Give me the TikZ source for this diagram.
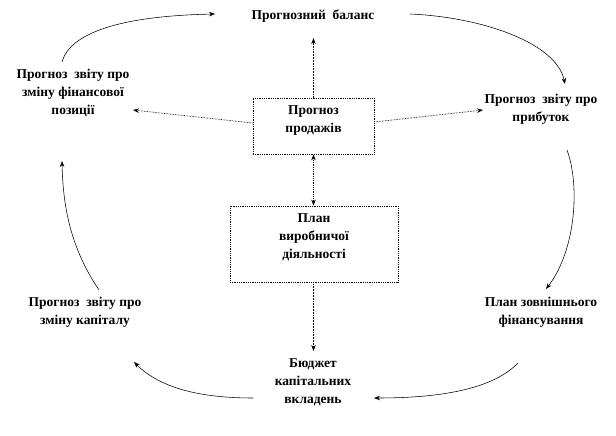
\documentclass[tikz,border=0pt]{standalone}
\usepackage{fontspec}
\setmainfont{Liberation Serif}
\usetikzlibrary{arrows.meta}
\tikzset{
  lbl/.style={font=\fontsize{13.5}{18}\selectfont\bfseries, align=center, inner sep=0pt},
  boxnode/.style={draw, line width=0.8pt, densely dotted, inner sep=0pt},
  arr/.style={-{Stealth[length=6pt,width=4.5pt]}, line width=0.55pt},
  sline/.style={arr, densely dotted, line width=0.8pt},
  dline/.style={{Stealth[length=6pt,width=4.5pt]}-{Stealth[length=6pt,width=4.5pt]}, densely dotted, line width=0.8pt}
}
\begin{document}
\begin{tikzpicture}[x=1pt,y=-1pt]
\useasboundingbox (0,0) rectangle (616,436);
% boxes
\node[boxnode, minimum width=121pt, minimum height=56pt] (sales) at (313.5,126) {};
\node[lbl] (salestext) at (313.5,121) {Прогноз\\продажів};
\node[boxnode, minimum width=168pt, minimum height=76pt] (prod) at (314,244) {};
\node[lbl] (prodtext) at (314,237) {План\\виробничої\\діяльності};
% text nodes
\node[lbl] (bal) at (313,16) {Прогнозний \ баланс};
\node[lbl] (fin) at (73,93) {Прогноз \ звіту про\\зміну фінансової\\позиції};
\node[lbl] (profit) at (541,109) {Прогноз \ звіту про\\прибуток};
\node[lbl] (ext) at (541,312) {План зовнішнього\\фінансування};
\node[lbl] (budget) at (313,382) {Бюджет\\капітальних\\вкладень};
\node[lbl] (cap) at (85,312) {Прогноз \ звіту про\\зміну капіталу};
% curve end points
\coordinate (c1a) at (62,62);   \coordinate (c1b) at (215,14);
\coordinate (c2a) at (410,14);  \coordinate (c2b) at (565,84);
\coordinate (c3a) at (567,150); \coordinate (c3b) at (546,289);
\coordinate (c4a) at (518,363); \coordinate (c4b) at (374,398);
\coordinate (c5a) at (253,398); \coordinate (c5b) at (134,362);
\coordinate (c6a) at (99,290);  \coordinate (c6b) at (62,161);
% straight connectors
\draw[sline] (sales.north) -- (313.5,38);
\draw[sline] (sales.west |- 0,123) -- (133,110);
\draw[sline] (sales.east |- 0,122) -- (483,110);
\draw[dline] (sales.south) -- (prod.north -| sales.south);
\draw[sline] (prod.south -| sales.south) -- (313.5,351);
% curved connectors
\draw[arr] (c1a) .. controls (70,33) and (120,16) .. (c1b);
\draw[arr] (c2a) .. controls (480,17) and (556,42) .. (c2b);
\draw[arr] (c3a) .. controls (580,185) and (576,250) .. (c3b);
\draw[arr] (c4a) .. controls (490,392) and (430,398) .. (c4b);
\draw[arr] (c5a) .. controls (200,398) and (160,388) .. (c5b);
\draw[arr] (c6a) .. controls (72,250) and (63,210) .. (c6b);
\end{tikzpicture}
\end{document}
